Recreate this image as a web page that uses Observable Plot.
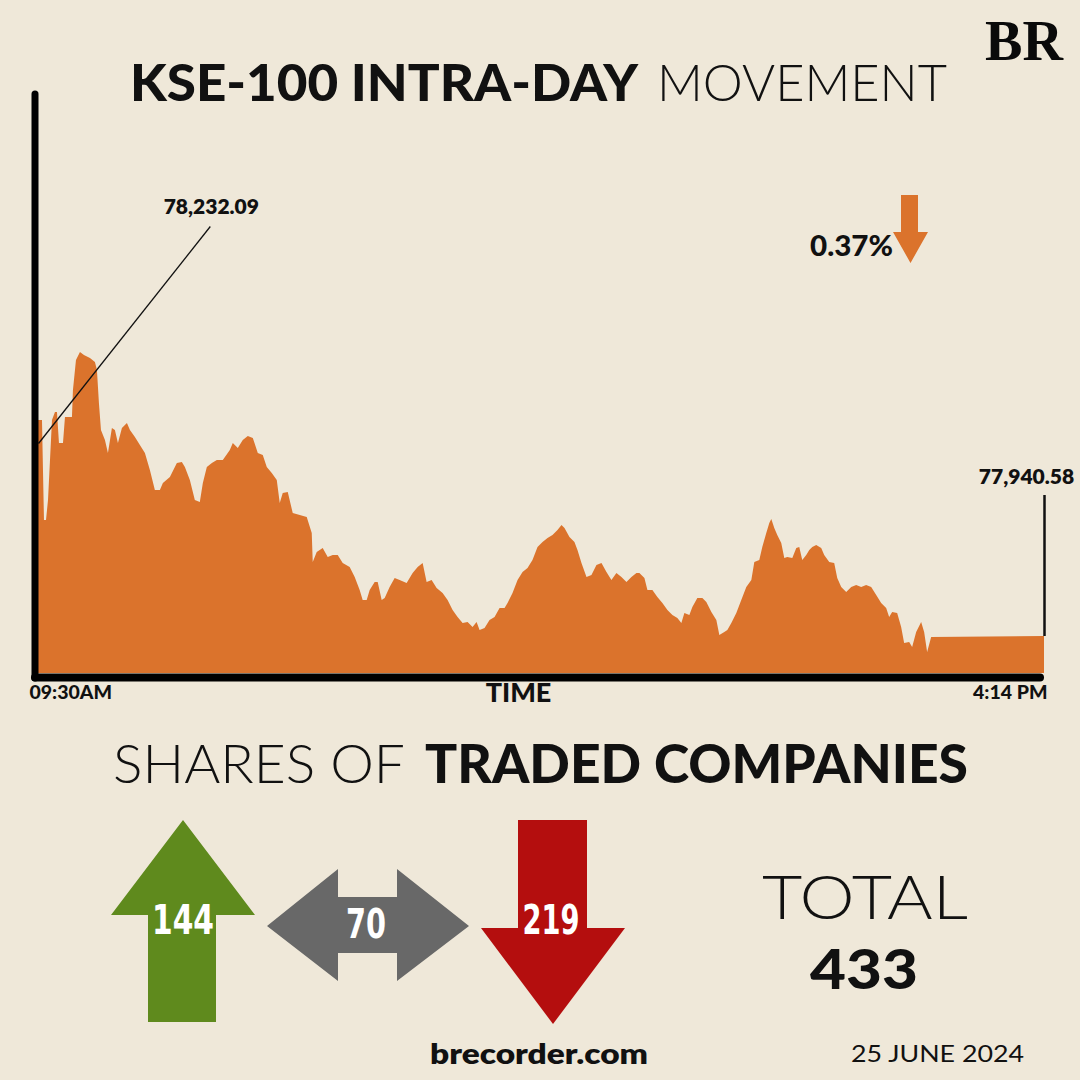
<!DOCTYPE html>
<html>
<head>
<meta charset="utf-8">
<script src="https://cdn.jsdelivr.net/npm/d3@7"></script>
<script src="https://cdn.jsdelivr.net/npm/@observablehq/plot@0.6"></script>
<style>
  html, body { margin: 0; padding: 0; background: #EFE8D9; }
  #page { position: relative; width: 1080px; height: 1080px; overflow: hidden; background: #EFE8D9; }
  #chart { position: absolute; left: 0; top: 0; }
  #overlay { position: absolute; left: 0; top: 0; }
</style>
</head>
<body>
<div id="page">
  <div id="chart"></div>
  <svg id="overlay" width="1080" height="1080" xmlns="http://www.w3.org/2000/svg"></svg>
</div>
<script>
// ---------- data ----------
const times = ["09:30:00","09:31:36","09:32:24","09:33:13","09:34:01","09:35:37","09:36:49","09:37:37","09:38:25","09:40:02",
"09:40:50","09:43:38","09:44:02","09:45:15","09:46:51","09:48:27","09:50:52","09:52:52","09:53:40","09:54:28",
"09:55:17","09:56:53","09:58:05","09:59:41","10:00:53","10:02:06","10:03:42","10:05:43","10:06:55","10:08:55",
"10:10:55","10:12:56","10:14:56","10:16:56","10:18:57","10:20:09","10:22:58","10:25:46","10:27:46","10:28:59",
"10:30:59","10:32:59","10:34:59","10:36:12","10:37:48","10:39:49","10:41:49","10:44:13","10:47:02","10:48:14",
"10:50:14","10:52:14","10:54:15","10:56:16","10:58:16","11:00:16","11:01:52","11:03:53","11:05:53","11:07:05",
"11:08:17","11:10:18","11:12:18","11:15:07","11:17:55","11:19:56","11:20:20","11:21:56","11:24:20","11:26:21",
"11:28:21","11:30:22","11:32:22","11:35:10","11:37:11","11:39:11","11:40:23","11:42:00","11:43:12","11:45:12",
"11:46:25","11:48:01","11:49:13","11:51:13","11:53:14","11:55:14","11:58:02","12:00:27","12:02:28","12:04:28",
"12:06:04","12:08:04","12:10:05","12:12:29","12:14:29","12:16:30","12:18:30","12:20:31","12:22:31","12:24:31",
"12:26:08","12:27:20","12:29:20","12:31:20","12:33:21","12:35:22","12:37:22","12:38:34","12:40:34","12:42:35",
"12:44:35","12:46:35","12:48:35","12:50:36","12:52:37","12:54:37","12:56:37","12:58:37","13:00:14","13:01:26",
"13:03:26","13:05:26","13:06:39","13:08:15","13:10:16","13:12:16","13:14:16","13:16:17","13:18:17","13:20:17",
"13:22:17","13:24:18","13:26:19","13:28:19","13:30:19","13:31:31","13:33:32","13:34:44","13:36:44","13:38:44",
"13:40:45","13:42:46","13:44:46","13:46:46","13:48:22","13:49:35","13:51:35","13:52:47","13:54:47","13:56:48",
"13:58:24","14:00:25","14:02:25","14:03:37","14:05:37","14:06:50","14:08:26","14:10:26","14:12:26","14:14:27",
"14:16:28","14:17:40","14:19:40","14:20:52","14:22:28","14:23:41","14:24:29","14:25:41","14:26:53","14:28:29",
"14:29:42","14:30:54","14:32:55","14:34:31","14:35:43","14:36:55","14:38:31","14:39:44","14:40:56","14:42:32",
"14:44:32","14:45:44","14:47:45","14:49:45","14:50:58","14:52:34","14:54:34","14:56:35","14:58:35","15:00:35",
"15:02:35","15:04:36","15:06:37","15:08:37","15:10:37","15:11:49","15:13:02","15:15:02","15:16:38","15:17:50",
"15:19:51","15:21:03","15:22:40","15:24:40","15:25:52","15:27:04","15:28:41","16:14:00"];

const values = [78162.3,78162.3,78059.6,78059.6,78080.2,78162.3,78170.5,78170.5,78138.7,78138.7,
78165.4,78165.4,78193.1,78223.9,78232.09,78229.0,78225.9,78221.8,78213.6,78179.7,
78152.0,78141.8,78128.4,78154.1,78152.0,78138.7,78154.1,78159.2,78152.0,78144.8,
78136.6,78128.4,78111.0,78090.4,78090.4,78097.6,78103.8,78118.2,78119.2,78114.0,
78100.7,78080.2,78078.1,78097.6,78114.0,78118.2,78121.2,78121.2,78131.5,78138.7,
78133.5,78141.8,78145.9,78143.8,78128.4,78126.4,78114.0,78107.9,78100.7,78077.1,
78087.4,78088.4,78066.8,78064.8,78062.7,78046.3,78016.5,78026.8,78030.9,78021.7,
78023.7,78023.7,78015.5,78011.4,78001.1,77987.8,77977.5,77977.5,77987.8,77996.0,
77996.0,77977.5,77979.6,77990.9,78000.1,77998.1,77995.0,78005.2,78011.4,78015.5,
77996.0,77998.1,77989.9,77984.7,77977.5,77967.3,77960.1,77953.9,77955.0,77949.8,
77955.0,77946.7,77948.8,77957.0,77960.1,77969.3,77969.3,77974.5,77984.7,77998.1,
78006.3,78010.4,78018.6,78031.9,78037.1,78041.2,78044.3,78049.4,78054.5,78051.4,
78042.2,78037.1,78028.9,78015.5,78001.1,78003.2,78013.5,78015.5,78006.3,77998.1,
78005.2,78001.1,77996.0,78001.1,78005.2,78005.2,78000.1,77987.8,77987.8,77980.6,
77974.5,77967.3,77962.1,77959.1,77953.9,77964.2,77962.1,77970.3,77979.6,77979.6,
77975.5,77965.2,77957.0,77941.6,77944.7,77946.7,77953.9,77964.2,77977.5,77990.9,
77998.1,78016.5,78018.6,78031.9,78046.3,78056.6,78060.7,78051.4,78044.3,78036.0,
78020.6,78021.7,78020.6,78030.9,78031.9,78018.6,78023.7,78028.9,78031.9,78034.0,
78030.9,78023.7,78016.5,78015.5,78000.1,77990.9,77985.7,77990.9,77992.9,77990.9,
77992.9,77990.9,77982.7,77974.5,77969.3,77960.1,77965.2,77964.2,77949.8,77933.4,
77934.4,77929.3,77944.7,77955.0,77944.7,77924.2,77939.6,77940.58];

const yDomain = [77902.6, 78500];
const timeDomain = ["09:30:00", "16:14:00"];
const tickLabels = ["09:30AM", "4:14 PM"];
const axisTitle = "TIME";

const highLabel = "78,232.09";
const highLabelPos = {time: "10:39:24", value: 78380.9};
const highLeader = {time1: "10:39:00", value1: 78361.4, time2: "09:30:00", value2: 78138.7};
const closeLabel = "77,940.58";
const closeLeaderTop = 78085.3;
const closeLabelValue = 78103.8;

const changePct = "0.37%";
const categories = ["Up", "Unchanged", "Down"];
const counts = [144, 70, 219];
const total = 433;

const titleBold = "KSE-100 INTRA-DAY";
const titleLight = "MOVEMENT";
const subLight = "SHARES OF";
const subBold = "TRADED COMPANIES";
const site = "brecorder.com";
const dateText = "25 JUNE 2024";

// ---------- build ----------
const T = s => new Date(`2024-06-25T${s}Z`);
const data = times.map((t, i) => ({t: T(t), v: values[i]}));
const ORANGE = "#DB732C";
const FONT = "Lato, 'Open Sans', sans-serif";
const t0 = T(timeDomain[0]), t1 = T(timeDomain[1]);

const chart = Plot.plot({
  width: 1080,
  height: 720,
  marginLeft: 38,
  marginRight: 36,
  marginTop: 91,
  marginBottom: 47,
  style: {background: "transparent", overflow: "visible", fontFamily: FONT},
  x: {type: "utc", domain: [t0, t1], axis: null},
  y: {domain: yDomain, axis: null},
  marks: [
    Plot.areaY(data, {x: "t", y1: () => yDomain[0], y2: "v", curve: "linear", fill: ORANGE}),
    // leader line to high
    Plot.link([highLeader], {x1: d => T(d.time1), y1: "value1", x2: d => T(d.time2), y2: "value2", stroke: "#111", strokeWidth: 1.3}),
    Plot.text([highLabel], {x: () => T(highLabelPos.time), y: () => highLabelPos.value, text: d => d, fontSize: 21, fontWeight: 800, fill: "#111", fontFamily: FONT}),
    // close line and label
    Plot.ruleX([data[data.length - 1]], {x: "t", y1: "v", y2: () => closeLeaderTop, stroke: "#111", strokeWidth: 2.5}),
    Plot.text([closeLabel], {x: () => t1, y: () => closeLabelValue, text: d => d, dx: -18, fontSize: 21, fontWeight: 800, fill: "#111", fontFamily: FONT}),
    // axis lines
    Plot.ruleX([t0], {stroke: "#000", strokeWidth: 7, dx: -3.5, insetTop: 3, insetBottom: -5, strokeLinecap: "round"}),
    Plot.ruleY([yDomain[0]], {stroke: "#000", strokeWidth: 8, dy: 4, insetLeft: -3, insetRight: 4, strokeLinecap: "round"}),
    // tick labels
    Plot.text([tickLabels[0]], {x: () => t0, frameAnchor: "bottom", textAnchor: "start", dx: -9, dy: 25, text: d => d, fontSize: 19.5, fontWeight: 900, fill: "#111", fontFamily: FONT}),
    Plot.text([tickLabels[1]], {x: () => t1, frameAnchor: "bottom", textAnchor: "end", dx: 3, dy: 25, text: d => d, fontSize: 19.5, fontWeight: 900, fill: "#111", fontFamily: FONT}),
    Plot.text([axisTitle], {frameAnchor: "bottom", dx: -23, dy: 28, text: d => d, fontSize: 27, fontWeight: 900, fill: "#111", fontFamily: FONT})
  ]
});
document.getElementById("chart").appendChild(chart);

// ---------- overlay (title, icons, captions) ----------
const NS = "http://www.w3.org/2000/svg";
const ov = document.getElementById("overlay");
function el(tag, attrs, text) {
  const e = document.createElementNS(NS, tag);
  for (const k in attrs) e.setAttribute(k, attrs[k]);
  if (text !== undefined) e.textContent = text;
  ov.appendChild(e);
  return e;
}
function txt(s, x, y, size, weight, len, opts = {}) {
  return el("text", Object.assign({x, y, "font-size": size, "font-weight": weight, "font-family": FONT,
    fill: "#111", textLength: len, lengthAdjust: "spacingAndGlyphs"}, opts), s);
}

// logo
txt("BR", 985, 60, 58, 700, 78, {"font-family": "'Liberation Serif', 'DejaVu Serif', serif", fill: "#0a0a0a"});
// title
txt(titleBold, 130, 101, 51, 900, 508);
txt(titleLight, 657, 101, 51, 300, 290);
// change
txt(changePct, 810, 256, 28, 900, 83);
el("polygon", {points: "901,195 918,195 918,232 928,232 910.5,263 893,232 901,232", fill: ORANGE});
// subtitle
txt(subLight, 113, 783, 53, 300, 292);
txt(subBold, 425, 783, 53, 900, 543);

// arrows
el("polygon", {points: "183,820 255,915 216,915 216,1022 148,1022 148,915 111,915", fill: "#5F8A1D"});
el("polygon", {points: "267,926 338,869 338,897 397,897 397,869 469,926 397,981 397,953 338,953 338,981", fill: "#686868"});
el("polygon", {points: "518,820 587,820 587,928 625,928 553,1024 481,928 518,928", fill: "#B40E0E"});
const NUMFONT = "'Liberation Sans Narrow', 'DejaVu Sans Condensed', 'Roboto Condensed', sans-serif";
const numPos = [{x: 183, y: 934, w: 62}, {x: 366, y: 938, w: 40}, {x: 551, y: 934, w: 57}];
counts.forEach((c, i) => {
  txt(String(c), numPos[i].x - numPos[i].w / 2, numPos[i].y, 40, 700, numPos[i].w, {"font-family": NUMFONT, fill: "#fff"});
});

// total
txt("TOTAL", 762, 919, 62, 300, 206);
txt(String(total), 810, 989, 56, 900, 108);

// footer
txt(site, 430, 1064, 29, 800, 218);
txt(dateText, 851, 1062, 24, 400, 173);
</script>
</body>
</html>
